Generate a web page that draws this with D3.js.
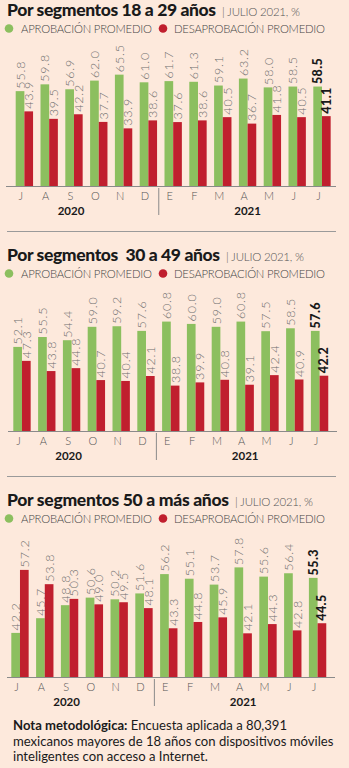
<!DOCTYPE html>
<html>
<head>
<meta charset="utf-8">
<script src="https://cdn.jsdelivr.net/npm/d3@7"></script>
<style>
  html, body { margin: 0; padding: 0; background: #fde9dc; }
  svg { display: block; }
</style>
</head>
<body>
<svg id="chart" width="349" height="768"></svg>
<script>
// ---- data ----
const months = ["J","A","S","O","N","D","E","F","M","A","M","J","J"];
const years = ["2020","2021"];
const seriesNames = ["APROBACIÓN PROMEDIO","DESAPROBACIÓN PROMEDIO"];
const titles = ["Por segmentos 18 a 29 años","Por segmentos\u00a0 30 a 49 años","Por segmentos 50 a más años"];
const subtitle = "| JULIO 2021, %";
const aprob1829 = [55.8,59.8,56.9,62.0,65.5,61.0,61.7,61.3,59.1,63.2,58.0,58.5,58.5];
const desap1829 = [43.9,39.5,42.2,37.7,33.9,38.6,37.6,38.6,40.5,36.7,41.8,40.5,41.1];
const aprob3049 = [52.1,55.5,54.4,59.0,59.2,57.6,60.8,60.0,59.0,60.8,57.5,58.5,57.6];
const desap3049 = [47.3,43.8,44.8,40.7,40.4,42.1,38.8,39.9,40.8,39.1,42.4,40.9,42.2];
const aprob50 = [42.2,45.7,48.8,50.6,50.2,51.6,56.2,55.1,53.7,57.8,55.6,56.4,55.3];
const desap50 = [57.2,53.8,50.3,49.0,49.5,48.1,43.3,44.8,45.9,42.1,44.3,42.8,44.5];
const noteBold = "Nota metodológica:";
const noteLines = [" Encuesta aplicada a 80,391","mexicanos mayores de 18 años con dispositivos móviles","inteligentes con acceso a Internet."];

// ---- layout / style ----
const GREEN = "#8cbf5f", RED = "#c01f2e", GREY = "#6e6e6e", DARK = "#1a1a1a";
const LIGHT = "'Lato', 'Open Sans', sans-serif";
const panels = [
  {title: titles[0], a: aprob1829, d: desap1829, top: 0,   base: 186, x0: 15.7, axL: 6, axR: 336, dom: [0, 70],      h: 119,   tw: 209, sw: 78},
  {title: titles[1], a: aprob3049, d: desap3049, top: 245, base: 431, x0: 13.3, axL: 8, axR: 337, dom: [23.2, 63.2], h: 116.4, tw: 213, sw: 78},
  {title: titles[2], a: aprob50,   d: desap50,   top: 490, base: 677, x0: 11.3, axL: 7, axR: 335, dom: [31.7, 59.7], h: 117.6, tw: 222, sw: 78}
];
const STEP = 24.8, PAD = 0.3;

const svg = d3.select("#chart");
svg.append("rect").attr("width", 349).attr("height", 768).attr("fill", "#fde9dc");

panels.forEach((p, pi) => {
  const g = svg.append("g");
  // title
  g.append("text").attr("x", 7).attr("y", p.top + 16)
    .attr("font-family", "'Lato', sans-serif").attr("font-weight", 900)
    .attr("font-size", 17.5).attr("fill", DARK)
    .attr("textLength", p.tw).attr("lengthAdjust", "spacing").text(p.title);
  g.append("text").attr("x", 7 + p.tw + 6).attr("y", p.top + 16)
    .attr("font-family", LIGHT).attr("font-weight", 300)
    .attr("font-size", 11.5).attr("fill", "#555")
    .attr("textLength", p.sw).attr("lengthAdjust", "spacing").text(subtitle);
  // legend
  const ly = p.top + 28.5;
  [[GREEN, 9, 21, 131], [RED, 163, 174, 151]].forEach((c, i) => {
    g.append("circle").attr("cx", c[1]).attr("cy", ly).attr("r", 4.3).attr("fill", c[0]);
    g.append("text").attr("x", c[2]).attr("y", ly + 4)
      .attr("font-family", LIGHT).attr("font-weight", 300)
      .attr("font-size", 11.3).attr("fill", "#444")
      .attr("textLength", c[3]).attr("lengthAdjust", "spacing").text(seriesNames[i]);
  });

  // scales
  const x = d3.scaleBand().domain(d3.range(months.length))
    .range([p.x0, p.x0 + STEP * (months.length - PAD)]).paddingInner(PAD).paddingOuter(0);
  const xs = d3.scaleBand().domain(["a", "d"]).range([0, x.bandwidth()]);
  const y = d3.scaleLinear().domain(p.dom).range([p.base, p.base - p.h]);

  const rows = months.map((m, i) => ({i, a: p.a[i], d: p.d[i]}));
  const grp = g.selectAll("g.grp").data(rows).join("g")
    .attr("transform", d => `translate(${x(d.i)},0)`);
  const last = months.length - 1;
  ["a", "d"].forEach(k => {
    grp.append("rect").attr("x", xs(k)).attr("width", xs.bandwidth())
      .attr("y", d => y(d[k])).attr("height", d => p.base - y(d[k]))
      .attr("fill", k === "a" ? GREEN : RED);
    grp.append("text")
      .attr("transform", d => `translate(${xs(k) + xs.bandwidth() / 2},${y(d[k]) - 2.5}) rotate(-90)`)
      .attr("dy", "0.36em")
      .attr("font-family", "'Lato', sans-serif")
      .attr("font-weight", d => d.i === last ? 900 : 300)
      .attr("font-size", 12.5)
      .attr("letter-spacing", d => d.i === last ? 0.4 : 0.8)
      .attr("fill", d => d.i === last ? DARK : GREY)
      .text(d => d3.format(".1f")(d[k]));
  });

  // axis line
  g.append("line").attr("x1", p.axL).attr("x2", p.axR).attr("y1", p.base + 0.5).attr("y2", p.base + 0.5)
    .attr("stroke", "#8a8a8a").attr("stroke-width", 1);
  // month labels
  const ax = d3.axisBottom(x).tickSize(0).tickPadding(0).tickFormat(i => months[i]);
  const axG = g.append("g").attr("transform", `translate(-3.5,${p.base + 14})`).call(ax);
  axG.select(".domain").remove();
  axG.selectAll("text").attr("dy", 0).attr("font-family", LIGHT).attr("font-weight", 300)
    .attr("font-size", 11).attr("fill", "#555");
  // separator between years
  const sepX = (x(5) + x.bandwidth() + x(6)) / 2 - 2;
  g.append("line").attr("x1", sepX).attr("x2", sepX).attr("y1", p.base + 2).attr("y2", p.base + 29)
    .attr("stroke", "#8a8a8a").attr("stroke-width", 1);
  // years
  [[2, 0], [9, 1]].forEach(([mi, yi]) => {
    g.append("text").attr("x", x(mi) + x.bandwidth() / 2 - 3 + yi * 3).attr("y", p.base + 29)
      .attr("text-anchor", "middle").attr("font-family", "'Lato', sans-serif").attr("font-weight", 700)
      .attr("font-size", 11.5).attr("fill", DARK).text(years[yi]);
  });
});

// horizontal rules between panels
[231, 476].forEach(yy => {
  svg.append("line").attr("x1", 7).attr("x2", 336).attr("y1", yy + 0.5).attr("y2", yy + 0.5)
    .attr("stroke", "#9a9a9a").attr("stroke-width", 1);
});

// note
const note = svg.append("text").attr("font-family", "'Lato', sans-serif").attr("font-size", 13.1).attr("fill", DARK);
const l1 = note.append("tspan").attr("x", 13).attr("y", 730);
l1.append("tspan").attr("font-weight", 700).text(noteBold);
l1.append("tspan").attr("font-weight", 400).text(noteLines[0]);
note.append("tspan").attr("x", 13).attr("y", 745.5).text(noteLines[1]);
note.append("tspan").attr("x", 13).attr("y", 761).text(noteLines[2]);
</script>
</body>
</html>
